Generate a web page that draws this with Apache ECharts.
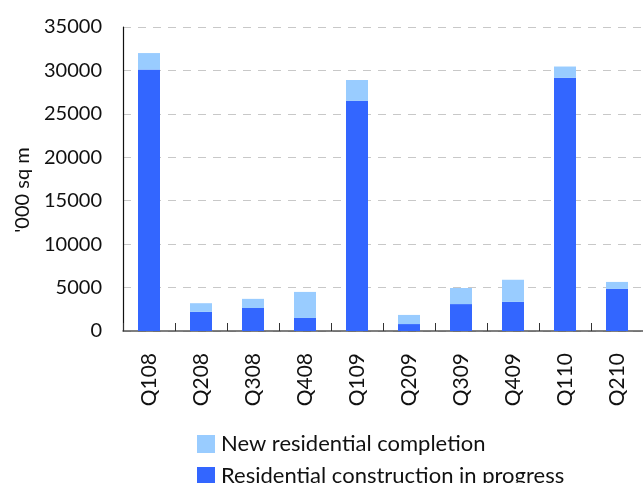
<!DOCTYPE html>
<html>
<head>
<meta charset="utf-8">
<style>
  html, body { margin: 0; padding: 0; background: #ffffff; }
  #chart { width: 643px; height: 483px; }
</style>
<script src="https://cdn.jsdelivr.net/npm/echarts@6/dist/echarts.min.js"></script>
</head>
<body>
<div id="chart"></div>
<script>
// Quarterly residential floor space, '000 sq m
const quarters = ['Q108', 'Q208', 'Q308', 'Q408', 'Q109', 'Q209', 'Q309', 'Q409', 'Q110', 'Q210'];
const inProgress = [30100, 2200, 2650, 1500, 26500, 800, 3100, 3350, 29150, 4850];
const completion = [1900, 1000, 1050, 3000, 2400, 1050, 1850, 2550, 1300, 800];
const yTicks = { min: 0, max: 35000, interval: 5000 };
const yTitle = "'000 sq m";

const FONT = 'Lato, "DejaVu Sans", sans-serif';

const chart = echarts.init(document.getElementById('chart'), null, { renderer: 'canvas' });
chart.setOption({
  animation: false,
  backgroundColor: '#ffffff',
  textStyle: { fontFamily: FONT },
  grid: { left: 123, top: 27, right: -9, bottom: 152, containLabel: false },
  // vertical axis title, sitting a little below the plot's mid-height
  graphic: [{
    type: 'text',
    x: 23,
    y: 190,
    rotation: Math.PI / 2,
    style: {
      text: yTitle,
      fontFamily: FONT,
      fontSize: 20,
      fill: '#111111',
      align: 'center',
      verticalAlign: 'middle'
    }
  }],
  legend: {
    orient: 'vertical',
    left: 192,
    top: 428,
    height: 120,
    itemWidth: 18,
    itemHeight: 18,
    itemGap: 10,
    icon: 'rect',
    data: ['New residential completion', 'Residential construction in progress'],
    textStyle: { fontFamily: FONT, fontSize: 22, color: '#111111', padding: [0, 0, 0, 1] }
  },
  xAxis: {
    type: 'category',
    data: quarters,
    axisLine: { show: true, lineStyle: { color: '#555555', width: 1.5 } },
    axisTick: { show: true, inside: true, length: 8, alignWithLabel: false, lineStyle: { color: '#333333' } },
    axisLabel: { rotate: 90, margin: 22, fontFamily: FONT, fontSize: 21, color: '#111111', interval: 0 }
  },
  yAxis: {
    type: 'value',
    min: yTicks.min,
    max: yTicks.max,
    interval: yTicks.interval,
    axisLine: { show: true, lineStyle: { color: '#111111', width: 1.2 } },
    axisTick: { show: false },
    axisLabel: { margin: 21, fontFamily: FONT, fontSize: 20, color: '#111111', formatter: v => String(v) },
    splitLine: { show: true, lineStyle: { color: '#c8c8c8', type: [8, 7], width: 1.2 } }
  },
  series: [
    {
      name: 'Residential construction in progress',
      type: 'bar',
      stack: 'total',
      data: inProgress,
      barWidth: 22,
      itemStyle: { color: '#3366ff' }
    },
    {
      name: 'New residential completion',
      type: 'bar',
      stack: 'total',
      data: completion,
      barWidth: 22,
      itemStyle: { color: '#99ccff' }
    }
  ]
});
</script>
</body>
</html>
